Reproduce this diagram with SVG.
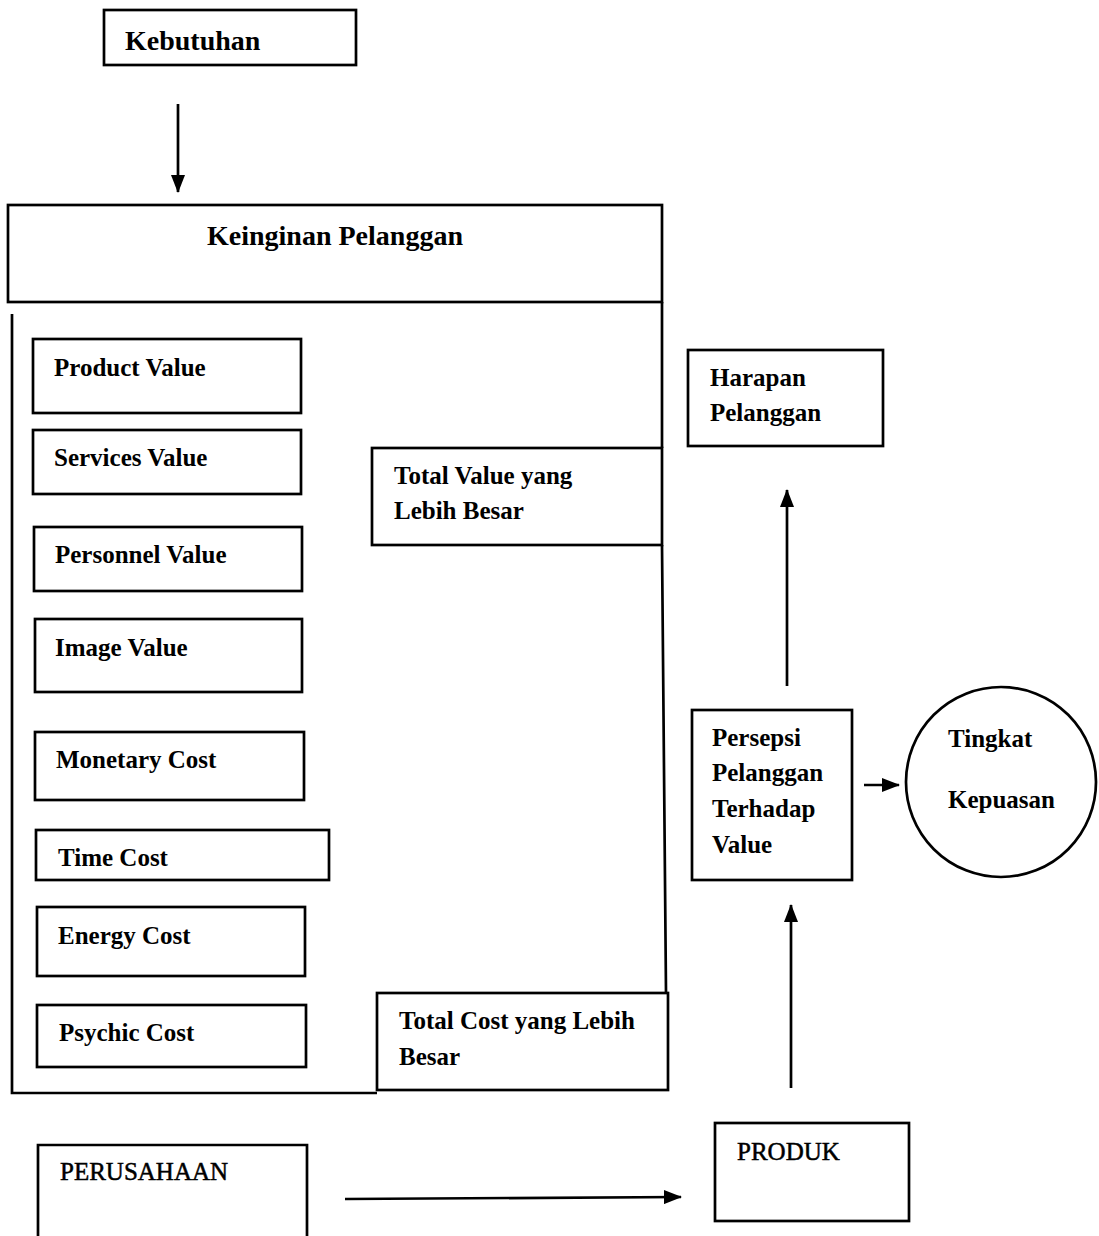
<svg xmlns="http://www.w3.org/2000/svg" width="1099" height="1236" viewBox="0 0 1099 1236">
<style>
.b{fill:#fff;stroke:#000;stroke-width:2.7}
.l{fill:none;stroke:#000;stroke-width:2.7}
.t{font-family:"Liberation Serif","Times New Roman",serif;font-weight:bold;font-size:25px;fill:#000}
.r{font-family:"Liberation Serif","Times New Roman",serif;font-size:25px;fill:#000;stroke:#000;stroke-width:0.5}
.big{font-size:28px}
</style>
<defs>
<marker id="ah" viewBox="0 0 18 14" refX="17" refY="7" markerWidth="18" markerHeight="14" markerUnits="userSpaceOnUse" orient="auto">
<path d="M0,0 L18,7 L0,14 Z" fill="#000"/>
</marker>
</defs>
<rect width="1099" height="1236" fill="#fff"/>
<g id="connectors">
<line class="l" x1="178" y1="104" x2="178" y2="192" marker-end="url(#ah)"/>
<line class="l" x1="787" y1="686" x2="787" y2="490" marker-end="url(#ah)"/>
<line class="l" x1="864" y1="785" x2="899" y2="785" marker-end="url(#ah)"/>
<line class="l" x1="791" y1="1088" x2="791" y2="905" marker-end="url(#ah)"/>
<line class="l" x1="345" y1="1199" x2="681" y2="1197" marker-end="url(#ah)"/>
</g>
<g id="kebutuhan">
<rect class="b" x="104" y="10" width="252" height="55"/>
<text class="t big" x="125" y="50">Kebutuhan</text>
</g>
<g id="keinginan">
<rect class="b" x="8" y="205" width="654" height="97"/>
<text class="t big" x="335" y="245" text-anchor="middle">Keinginan Pelanggan</text>
</g>
<g id="container">
<path class="l" d="M12,314 V1093 H377"/>
<path class="l" d="M662,302 V448 M662,545 L666,993"/>
</g>
<g id="product-value">
<rect class="b" x="33" y="339" width="268" height="74"/>
<text class="t" x="54" y="376">Product Value</text>
</g>
<g id="services-value">
<rect class="b" x="33" y="430" width="268" height="64"/>
<text class="t" x="54" y="466">Services Value</text>
</g>
<g id="personnel-value">
<rect class="b" x="34" y="527" width="268" height="64"/>
<text class="t" x="55" y="563">Personnel Value</text>
</g>
<g id="image-value">
<rect class="b" x="35" y="619" width="267" height="73"/>
<text class="t" x="55" y="656">Image Value</text>
</g>
<g id="monetary-cost">
<rect class="b" x="35" y="732" width="269" height="68"/>
<text class="t" x="56" y="768">Monetary Cost</text>
</g>
<g id="time-cost">
<rect class="b" x="36" y="830" width="293" height="50"/>
<text class="t" x="58" y="866">Time Cost</text>
</g>
<g id="energy-cost">
<rect class="b" x="37" y="907" width="268" height="69"/>
<text class="t" x="58" y="944">Energy Cost</text>
</g>
<g id="psychic-cost">
<rect class="b" x="37" y="1005" width="269" height="62"/>
<text class="t" x="59" y="1041">Psychic Cost</text>
</g>
<g id="total-value">
<rect class="b" x="372" y="448" width="290" height="97"/>
<text class="t" x="394" y="484">Total Value yang</text>
<text class="t" x="394" y="519">Lebih Besar</text>
</g>
<g id="total-cost">
<rect class="b" x="377" y="993" width="291" height="97"/>
<text class="t" x="399" y="1029">Total Cost yang Lebih</text>
<text class="t" x="399" y="1065">Besar</text>
</g>
<g id="harapan">
<rect class="b" x="688" y="350" width="195" height="96"/>
<text class="t" x="710" y="386">Harapan</text>
<text class="t" x="710" y="421">Pelanggan</text>
</g>
<g id="persepsi">
<rect class="b" x="692" y="710" width="160" height="170"/>
<text class="t" x="712" y="746">Persepsi</text>
<text class="t" x="712" y="781">Pelanggan</text>
<text class="t" x="712" y="817">Terhadap</text>
<text class="t" x="712" y="853">Value</text>
</g>
<g id="tingkat-kepuasan">
<circle class="b" cx="1001" cy="782" r="95"/>
<text class="t" x="948" y="747">Tingkat</text>
<text class="t" x="948" y="808">Kepuasan</text>
</g>
<g id="produk">
<rect class="b" x="715" y="1123" width="194" height="98"/>
<text class="r" x="737" y="1160">PRODUK</text>
</g>
<g id="perusahaan">
<path class="l" d="M38,1240 V1145 H307 V1240"/>
<text class="r" x="60" y="1180">PERUSAHAAN</text>
</g>
</svg>
